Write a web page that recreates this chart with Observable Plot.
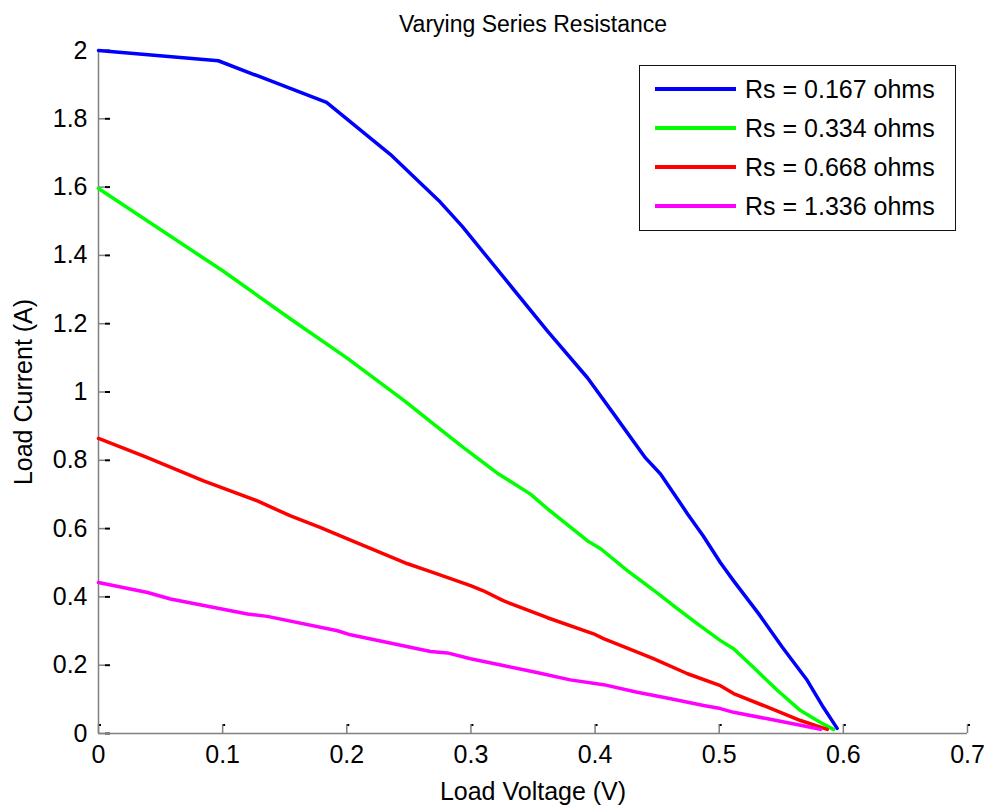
<!DOCTYPE html>
<html>
<head>
<meta charset="utf-8">
<script src="https://cdn.jsdelivr.net/npm/d3@7"></script>
<script src="https://cdn.jsdelivr.net/npm/@observablehq/plot@0.6"></script>
<style>
  body { margin: 0; background: #fff; }
  #wrap { position: relative; width: 987px; height: 807px; font-family: "Liberation Sans", Arial, sans-serif; }
  #legend { position: absolute; left: 639px; top: 65px; width: 315px; height: 164px; border: 1.5px solid #111; background: #fff; }
  .row { position: absolute; left: 0; height: 30px; display: flex; align-items: center; }
  .sw { width: 81px; height: 3.5px; margin-left: 15px; margin-right: 9px; }
  .lab { font-size: 25px; color: #000; white-space: nowrap; }
</style>
</head>
<body>
<div id="wrap"></div>
<script>
const titleText = "Varying Series Resistance";
const xLabel = "Load Voltage (V)";
const yLabel = "Load Current (A)";
const xTicks = [0, 0.1, 0.2, 0.3, 0.4, 0.5, 0.6, 0.7];
const yTicks = [0, 0.2, 0.4, 0.6, 0.8, 1, 1.2, 1.4, 1.6, 1.8, 2];

const seriesNames = ["Rs = 0.167 ohms", "Rs = 0.334 ohms", "Rs = 0.668 ohms", "Rs = 1.336 ohms"];
const seriesColors = ["#0000ff", "#00ff00", "#ff0000", "#ff00ff"];

const blueV = [0, 0.0965, 0.1837, 0.235, 0.274, 0.293, 0.3617, 0.394, 0.415, 0.4406, 0.4527, 0.4664, 0.4745, 0.487, 0.501, 0.5116, 0.5317, 0.551, 0.571, 0.584, 0.595];
const blueI = [2.0, 1.970, 1.848, 1.696, 1.561, 1.485, 1.178, 1.041, 0.936, 0.807, 0.760, 0.687, 0.643, 0.579, 0.50, 0.447, 0.351, 0.252, 0.155, 0.076, 0.015];

const greenV = [0, 0.1, 0.155, 0.2, 0.2465, 0.27, 0.294, 0.321, 0.348, 0.3617, 0.394, 0.4045, 0.426, 0.45, 0.4665, 0.4825, 0.501, 0.5116, 0.5277, 0.547, 0.5655, 0.5816, 0.592];
const greenI = [1.596, 1.355, 1.213, 1.10, 0.974, 0.906, 0.837, 0.763, 0.701, 0.658, 0.564, 0.541, 0.477, 0.412, 0.365, 0.321, 0.272, 0.248, 0.193, 0.126, 0.067, 0.032, 0.012];

const redV = [0, 0.038, 0.0846, 0.128, 0.1547, 0.179, 0.2006, 0.249, 0.2675, 0.2997, 0.310, 0.326, 0.3617, 0.3988, 0.4068, 0.431, 0.447, 0.4745, 0.501, 0.5116, 0.539, 0.5655, 0.587];
const redI = [0.864, 0.810, 0.740, 0.681, 0.637, 0.603, 0.570, 0.497, 0.474, 0.433, 0.418, 0.389, 0.339, 0.292, 0.278, 0.243, 0.219, 0.175, 0.140, 0.117, 0.077, 0.038, 0.012];

const magV = [0, 0.0395, 0.058, 0.12, 0.136, 0.1925, 0.203, 0.2377, 0.2675, 0.281, 0.2997, 0.326, 0.354, 0.380, 0.4068, 0.434, 0.461, 0.4874, 0.501, 0.5116, 0.539, 0.5655, 0.5816];
const magI = [0.442, 0.413, 0.394, 0.350, 0.343, 0.301, 0.289, 0.263, 0.240, 0.236, 0.219, 0.199, 0.178, 0.157, 0.143, 0.121, 0.102, 0.082, 0.073, 0.062, 0.043, 0.024, 0.012];

const seriesV = [blueV, greenV, redV, magV];
const seriesI = [blueI, greenI, redI, magI];

const W = 987, H = 807, mL = 98, mR = 20, mT = 50, mB = 74;
const plotW = W - mL - mR, plotH = H - mT - mB;
const fmt = d => String(+d.toFixed(1));
const font = '"Liberation Sans", Arial, sans-serif';

const lineMarks = seriesV.map((vs, k) =>
  Plot.line(vs.map((v, i) => ({v, i: seriesI[k][i]})), {x: "v", y: "i", stroke: seriesColors[k], strokeWidth: 3.5, strokeLinejoin: "round"})
);

const chart = Plot.plot({
  width: W, height: H,
  marginLeft: mL, marginRight: mR, marginTop: mT, marginBottom: mB,
  style: {fontFamily: font, background: "#fff", color: "#000"},
  x: {domain: [0, 0.7], axis: null},
  y: {domain: [0, 2], axis: null},
  marks: [
    Plot.axisX(xTicks, {tickSize: 0, tickPadding: 12, tickFormat: fmt, fontSize: 25, label: null, fill: "#000"}),
    Plot.axisY(yTicks, {tickSize: 0, tickPadding: 11, tickFormat: fmt, fontSize: 25, label: null, fill: "#000"}),
    Plot.tickX(xTicks, {x: d => d, stroke: "#808080", strokeWidth: 1.5, insetTop: plotH - 9}),
    Plot.tickX(xTicks, {x: d => d, stroke: "#000", strokeWidth: 2, insetTop: plotH - 9, insetBottom: 7, dx: 1.5}),
    Plot.tickY(yTicks, {y: d => d, stroke: "#808080", strokeWidth: 1.5, insetRight: plotW - 7}),
    Plot.tickY(yTicks, {y: d => d, stroke: "#000", strokeWidth: 2, insetLeft: 7, insetRight: plotW - 12}),
    Plot.ruleX([0], {stroke: "#808080", strokeWidth: 1.5}),
    Plot.ruleY([0], {stroke: "#808080", strokeWidth: 1.5}),
    ...lineMarks,
    Plot.text([titleText], {text: d => d, frameAnchor: "top", lineAnchor: "middle", textAnchor: "middle", dy: -26, fontSize: 23, fill: "#000"}),
    Plot.text([xLabel], {text: d => d, frameAnchor: "bottom", lineAnchor: "middle", textAnchor: "middle", dy: 58, fontSize: 25, fill: "#000"}),
    Plot.text([yLabel], {text: d => d, frameAnchor: "left", lineAnchor: "middle", textAnchor: "middle", dx: -75, rotate: -90, fontSize: 25, fill: "#000"})
  ]
});

const wrap = document.getElementById("wrap");
wrap.appendChild(chart);

const legend = document.createElement("div");
legend.id = "legend";
seriesNames.forEach((name, k) => {
  const row = document.createElement("div");
  row.className = "row";
  row.style.top = (8 + k * 39) + "px";
  const sw = document.createElement("div");
  sw.className = "sw";
  sw.style.background = seriesColors[k];
  const lab = document.createElement("span");
  lab.className = "lab";
  lab.textContent = name;
  row.appendChild(sw);
  row.appendChild(lab);
  legend.appendChild(row);
});
wrap.appendChild(legend);
</script>
</body>
</html>
